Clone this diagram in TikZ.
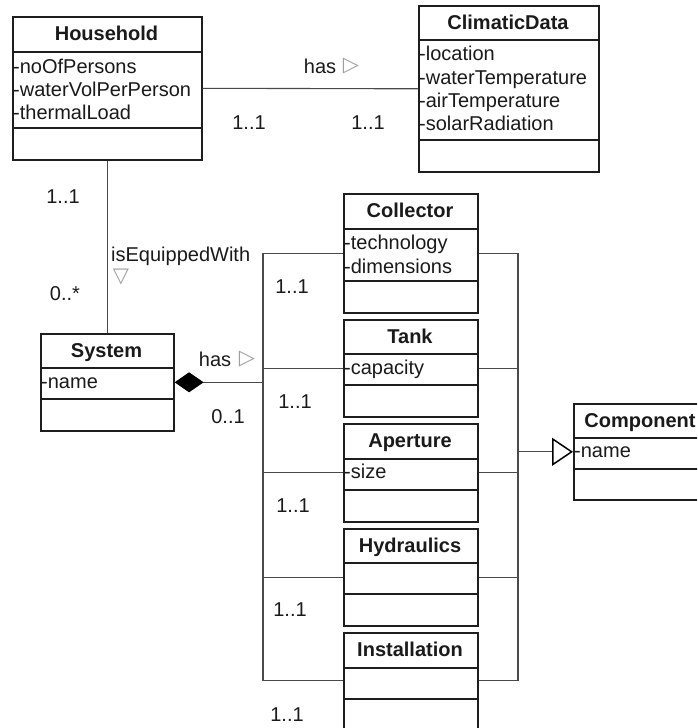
\documentclass[tikz,border=0pt]{standalone}
\usepackage{fontspec}
\setmainfont{Liberation Sans}
\newfontfamily\symfont{DejaVu Sans}
\usetikzlibrary{arrows.meta}
\definecolor{boxc}{HTML}{1E1E1E}
\definecolor{linec}{HTML}{4A4A4A}
\definecolor{textc}{HTML}{1A1A1A}
\definecolor{trig}{HTML}{A0A0A0}
\tikzset{
  umlbox/.style={draw=boxc, line width=1.6pt, inner sep=0pt, anchor=north west, fill=white},
  sepline/.style={draw=boxc, line width=1.6pt},
  attr/.style={anchor=west, inner sep=0pt, text=textc, text height=1.5ex, text depth=.25ex},
  ttl/.style={font=\bfseries, inner sep=0pt, text=textc, text height=1.5ex, text depth=.25ex},
  conn/.style={draw=linec, line width=1.1pt},
  lbl/.style={inner sep=0pt, text=textc, text height=1.5ex, text depth=.25ex},
  dirsym/.style={inner sep=0pt, text=trig, font=\symfont\fontsize{21}{21}\selectfont},
}
\newcommand\umlclass[8]{%
  \node[umlbox, minimum width={(#4-#2)*1pt}, minimum height={(#5-#3)*1pt}] (#1) at (#2,#3) {};
  \draw[sepline] (#2,#6) -- (#4,#6);
  \draw[sepline] (#2,#7) -- (#4,#7);
  \node[ttl] (#1-title) at ({(#2+#4)/2},{(#3+#6)/2}) {#8};
}
\begin{document}
\fontsize{20}{22}\selectfont
\begin{tikzpicture}[x=1pt,y=-1pt]
\useasboundingbox (0,0) rectangle (697,728);
\clip (0,0) rectangle (697,728);
\coordinate (lbus) at (263,0);
\coordinate (rbus) at (518,0);

% classes
\umlclass{household}{12}{16}{201}{159}{52}{128}{Household}
\node[attr] (h1) at (13,67) {-noOfPersons};
\node[attr] (h2) at (13,90) {-waterVolPerPerson};
\node[attr] (h3) at (13,113) {-thermalLoad};

\umlclass{climatic}{418}{5}{598}{171}{40}{140}{ClimaticData}
\node[attr] (c1) at (419,54) {-location};
\node[attr] (c2) at (419,77.5) {-waterTemperature};
\node[attr] (c3) at (419,100.5) {-airTemperature};
\node[attr] (c4) at (419,124) {-solarRadiation};

\umlclass{system}{40}{333}{173}{430}{368}{399}{System}
\node[attr] (s1) at (41,382) {-name};

\umlclass{collector}{343}{193}{477}{312}{229}{281}{Collector}
\node[attr] (co1) at (344,243) {-technology};
\node[attr] (co2) at (344,267) {-dimensions};

\umlclass{tank}{343}{319}{477}{416}{354}{385}{Tank}
\node[attr] (t1) at (344,368) {-capacity};

\umlclass{aperture}{343}{423}{477}{521}{459}{490}{Aperture}
\node[attr] (a1) at (344,472) {-size};

\umlclass{hydraulics}{343}{528}{477}{625}{563}{594}{Hydraulics}

\umlclass{installation}{343}{632}{477}{728}{668}{699}{Installation}

\umlclass{component}{573}{403}{707}{499}{438}{469}{Component}
\node[attr] (cp1) at (574,451) {-name};

% household -- climatic / system
\draw[conn] (household.east) -- (climatic.west);
\draw[conn] (household.south) -- (system.north);

% composition
\draw[conn, {Diamond[length=29pt,width=20pt,fill=black,color=black]}-] (system.east) -- (system.east -| lbus);

% left bus
\draw[conn] (collector.west) -- (collector.west -| lbus) -- (installation.west -| lbus) -- (installation.west);
\draw[conn] (tank.west) -- (tank.west -| lbus);
\draw[conn] (aperture.west) -- (aperture.west -| lbus);
\draw[conn] (hydraulics.west) -- (hydraulics.west -| lbus);

% right bus
\draw[conn] (collector.east) -- (collector.east -| rbus) -- (installation.east -| rbus) -- (installation.east);
\draw[conn] (tank.east) -- (tank.east -| rbus);
\draw[conn] (aperture.east) -- (aperture.east -| rbus);
\draw[conn] (hydraulics.east) -- (hydraulics.east -| rbus);

% generalization
\draw[conn, -{Triangle[open, length=21pt, width=28pt, line width=1.5pt, color=black, fill=white]}] (component.west -| rbus) -- (component.west);

% labels
\node[lbl] (has1) at (320,67) {has};
\node[dirsym] (has1t) at (351,66) {▷};
\node[lbl] (m1) at (249,123) {1..1};
\node[lbl] (m2) at (368,123) {1..1};
\node[lbl] (m3) at (63,197) {1..1};
\node[lbl, anchor=west] (iew) at (111,255) {isEquippedWith};
\node[dirsym] (iewt) at (121,277) {▽};
\node[lbl] (m4) at (65,294) {0..*};
\node[lbl] (has2) at (215,360) {has};
\node[dirsym] (has2t) at (247,359) {▷};
\node[lbl] (m5) at (228,417) {0..1};
\node[lbl] (b1) at (292,287) {1..1};
\node[lbl] (b2) at (295,402) {1..1};
\node[lbl] (b3) at (293,506) {1..1};
\node[lbl] (b4) at (290,610) {1..1};
\node[lbl] (b5) at (287,715) {1..1};
\end{tikzpicture}
\end{document}
